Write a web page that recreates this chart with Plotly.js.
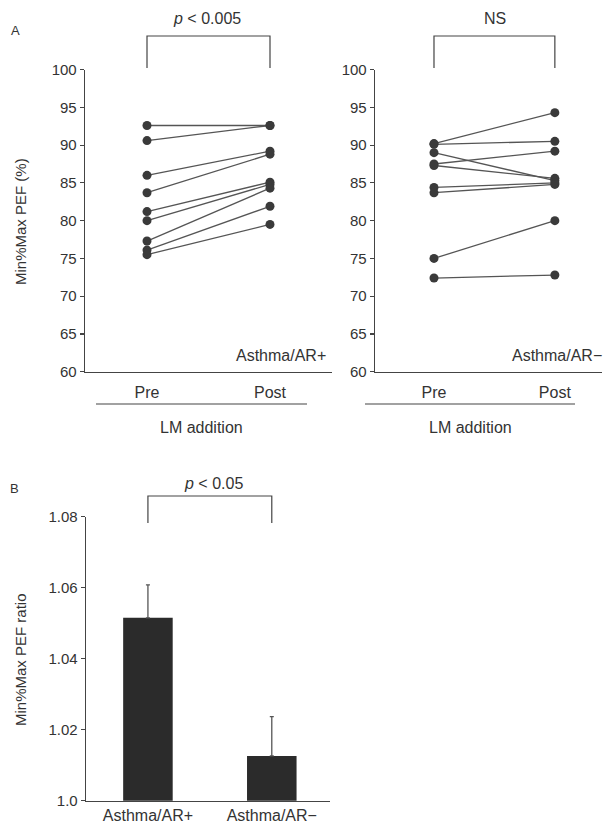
<!DOCTYPE html>
<html>
<head>
<meta charset="utf-8">
<script src="https://cdn.plot.ly/plotly-3.0.1.min.js"></script>
<style>html,body{margin:0;padding:0;background:#fff;}#chart{width:614px;height:823px;}</style>
</head>
<body>
<div id="chart"></div>
<script>
// Panel A data: Min%Max PEF (%) before and after LM addition
const phases = ["Pre", "Post"];
const prePlus  = [92.6, 90.6, 86.0, 83.7, 81.2, 80.0, 77.3, 76.1, 75.5];
const postPlus = [92.6, 92.6, 89.2, 88.8, 85.1, 84.8, 84.3, 81.9, 79.5];
const preMinus  = [90.2, 90.1, 89.0, 87.5, 87.3, 84.4, 83.7, 75.0, 72.4];
const postMinus = [94.3, 90.5, 85.3, 89.2, 85.6, 85.0, 84.8, 80.0, 72.8];
// Panel B data: Min%Max PEF ratio
const groups = ["Asthma/AR+", "Asthma/AR−"];
const ratioMeans = [1.0515, 1.0126];
const ratioErrors = [0.0093, 0.0111];
const yTicksA = [60, 65, 70, 75, 80, 85, 90, 95, 100];
const yTicksB = [1.0, 1.02, 1.04, 1.06, 1.08];
const yTickTextB = ["1.0", "1.02", "1.04", "1.06", "1.08"];

const W = 614, H = 823;
const px = v => v / W;
const py = v => 1 - v / H;
const ink = "#333";
const lineCol = "#555";
const fam = "Liberation Sans, Arial, sans-serif";
const font = {family: fam, size: 16, color: ink};
const tickFont = {family: fam, size: 15, color: ink};

const traces = [];
function pairTraces(pre, post, xa, ya) {
  for (let i = 0; i < pre.length; i++) {
    traces.push({
      x: [0, 1], y: [pre[i], post[i]], xaxis: xa, yaxis: ya,
      type: "scatter", mode: "lines+markers",
      line: {color: lineCol, width: 1.3},
      marker: {color: "#3a3a3a", size: 9},
      showlegend: false, hoverinfo: "y", cliponaxis: false
    });
  }
}
pairTraces(prePlus, postPlus, "x", "y");
pairTraces(preMinus, postMinus, "x2", "y2");
traces.push({
  x: [0, 1], y: ratioMeans, xaxis: "x3", yaxis: "y3", type: "bar",
  width: 0.4, marker: {color: "#2b2b2b"},
  error_y: {type: "data", array: ratioErrors, arrayminus: [0, 0], symmetric: false,
            color: lineCol, thickness: 1.3, width: 2},
  showlegend: false
});

const yA = {
  range: [60, 100], tickvals: yTicksA, ticks: "outside", ticklen: 4, tickwidth: 1.2,
  tickcolor: "#444", showline: true, linecolor: "#444", linewidth: 1.3,
  showgrid: false, zeroline: false, domain: [py(371.7), py(69.6)], tickfont: tickFont
};
const xA = {
  tickvals: [0, 1], ticktext: phases, ticks: "", showline: true, linecolor: "#444",
  linewidth: 1.3, showgrid: false, zeroline: false, tickfont: font, ticklabelstandoff: 6
};

function ann(text, x, y, extra) {
  return Object.assign({text: text, x: px(x), y: py(y), xref: "paper", yref: "paper",
    xanchor: "center", yanchor: "middle", showarrow: false, font: font}, extra || {});
}

const layout = {
  width: W, height: H, margin: {l: 0, r: 0, t: 0, b: 0},
  paper_bgcolor: "#fff", plot_bgcolor: "rgba(0,0,0,0)", font: font, showlegend: false,
  xaxis: Object.assign({}, xA, {domain: [px(85), px(332)], range: [-0.504, 1.504], anchor: "y"}),
  yaxis: Object.assign({}, yA, {anchor: "x"}),
  xaxis2: Object.assign({}, xA, {domain: [px(375), px(602)], range: [-0.488, 1.39], anchor: "y2"}),
  yaxis2: Object.assign({}, yA, {anchor: "x2"}),
  xaxis3: {
    domain: [px(86), px(330)], range: [-0.5, 1.47], anchor: "y3",
    tickvals: [0, 1], ticktext: groups, ticks: "", showline: true, linecolor: "#444",
    linewidth: 1.3, showgrid: false, zeroline: false, tickfont: font, ticklabelstandoff: 0
  },
  yaxis3: {
    domain: [py(800.7), py(516.7)], range: [1.0, 1.08], anchor: "x3",
    tickvals: yTicksB, ticktext: yTickTextB, ticks: "outside", ticklen: 4, tickwidth: 1.2,
    tickcolor: "#444", showline: true, linecolor: "#444", linewidth: 1.3,
    showgrid: false, zeroline: false, tickfont: tickFont
  },
  shapes: [
    {type: "path", xref: "x", yref: "paper", path: `M 0 ${py(68)} L 0 ${py(36)} L 1 ${py(36)} L 1 ${py(68)}`, line: {color: "#444", width: 1.2}},
    {type: "path", xref: "x2", yref: "paper", path: `M 0 ${py(68)} L 0 ${py(36)} L 1 ${py(36)} L 1 ${py(68)}`, line: {color: "#444", width: 1.2}},
    {type: "path", xref: "x3", yref: "paper", path: `M 0 ${py(523)} L 0 ${py(496)} L 1 ${py(496)} L 1 ${py(523)}`, line: {color: "#444", width: 1.2}},
    {type: "line", xref: "paper", yref: "paper", x0: px(96), x1: px(307), y0: py(404), y1: py(404), line: {color: "#444", width: 1.2}},
    {type: "line", xref: "paper", yref: "paper", x0: px(365), x1: px(575), y0: py(404), y1: py(404), line: {color: "#444", width: 1.2}}
  ],
  annotations: [
    ann("A", 15, 30, {font: {family: fam, size: 13, color: ink}}),
    ann("<i>p</i> < 0.005", 207, 18),
    ann("NS", 495, 18),
    ann("Asthma/AR+", 328, 356, {xanchor: "right"}),
    ann("Asthma/AR−", 604, 356, {xanchor: "right"}),
    ann("LM addition", 201, 427),
    ann("LM addition", 470, 427),
    ann("Min%Max PEF (%)", 20, 222, {textangle: -90, font: {family: fam, size: 15, color: ink}}),
    ann("B", 14, 488, {font: {family: fam, size: 13, color: ink}}),
    ann("<i>p</i> < 0.05", 213, 483),
    ann("Min%Max PEF ratio", 20, 660, {textangle: -90, font: {family: fam, size: 15, color: ink}})
  ]
};

Plotly.newPlot("chart", traces, layout, {staticPlot: true, displayModeBar: false});
</script>
</body>
</html>
